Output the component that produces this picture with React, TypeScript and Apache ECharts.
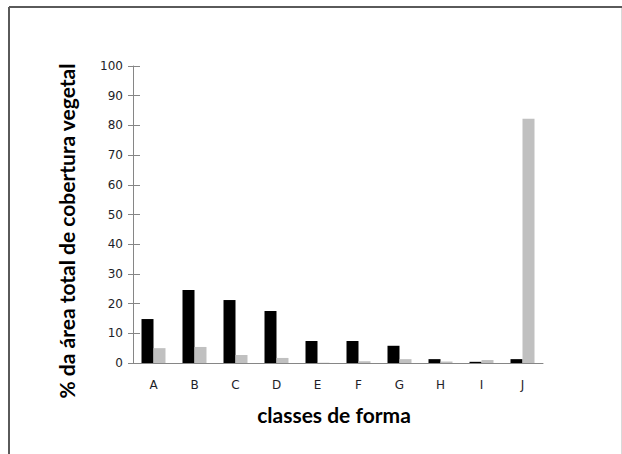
import React, { useEffect, useRef } from "react";
import * as echarts from "echarts";

const categories = ["A", "B", "C", "D", "E", "F", "G", "H", "I", "J"];
const blackSeries = [14.8, 24.6, 21.2, 17.5, 7.4, 7.4, 5.8, 1.3, 0.4, 1.3];
const greySeries = [5.0, 5.4, 2.7, 1.7, 0.1, 0.6, 1.3, 0.5, 1.0, 82.2];
const yTitle = "% da área total de cobertura vegetal";
const xTitle = "classes de forma";

export default function App() {
  const ref = useRef<HTMLDivElement>(null);
  useEffect(() => {
    if (!ref.current) return;
    const chart = echarts.init(ref.current, undefined, { renderer: "svg" });
    const axisColor = "#868686";
    const labelFont = { fontFamily: "DejaVu Sans", fontSize: 12, color: "#1e1e28" };
    chart.setOption({
      animation: false,
      backgroundColor: "#fff",
      grid: { left: 133, right: 79, top: 66, bottom: 91, containLabel: false },
      xAxis: {
        type: "category",
        data: categories,
        axisLine: { lineStyle: { color: axisColor, width: 1 } },
        axisTick: { inside: true, length: 5, lineStyle: { color: axisColor } },
        axisLabel: { ...labelFont, margin: 16 },
        splitLine: { show: false },
      },
      yAxis: [
        {
          type: "value",
          min: 0,
          max: 100,
          interval: 10,
          axisLine: { show: true, lineStyle: { color: axisColor } },
          axisTick: { show: true, length: 5, lineStyle: { color: axisColor } },
          axisLabel: { ...labelFont, margin: 10 },
          splitLine: { show: false },
        },
        {
          type: "value",
          position: "left",
          min: 0,
          max: 100,
          interval: 10,
          axisLine: { show: false },
          axisTick: { show: true, inside: true, length: 7, lineStyle: { color: axisColor } },
          axisLabel: { show: false },
          splitLine: { show: false },
        },
      ],
      series: [
        {
          type: "bar",
          data: blackSeries,
          barWidth: 12,
          barGap: "0%",
          itemStyle: { color: "#000" },
        },
        {
          type: "bar",
          data: greySeries,
          barWidth: 12,
          itemStyle: { color: "#c0c0c0" },
        },
      ],
      graphic: [
        {
          type: "line",
          shape: { x1: 9, y1: 7, x2: 622, y2: 7 },
          style: { stroke: "#5a5a5a", lineWidth: 2 },
        },
        {
          type: "line",
          shape: { x1: 9, y1: 7, x2: 9, y2: 460 },
          style: { stroke: "#5a5a5a", lineWidth: 2 },
        },
        {
          type: "line",
          shape: { x1: 621.5, y1: 8, x2: 621.5, y2: 460 },
          style: { stroke: "#d9d9d9", lineWidth: 1 },
        },
        {
          type: "text",
          x: 66,
          y: 231,
          rotation: Math.PI / 2,
          style: {
            text: yTitle,
            fontFamily: "Lato",
            fontWeight: "bold",
            fontSize: 21,
            fill: "#000",
            align: "center",
            verticalAlign: "middle",
          },
        },
        {
          type: "text",
          x: 334,
          y: 414,
          style: {
            text: xTitle,
            fontFamily: "Lato",
            fontWeight: "bold",
            fontSize: 21,
            fill: "#000",
            align: "center",
            verticalAlign: "middle",
          },
        },
      ],
    });
    return () => chart.dispose();
  }, []);
  return <div ref={ref} style={{ width: 622, height: 454, position: "absolute", left: 0, top: 0 }} />;
}
